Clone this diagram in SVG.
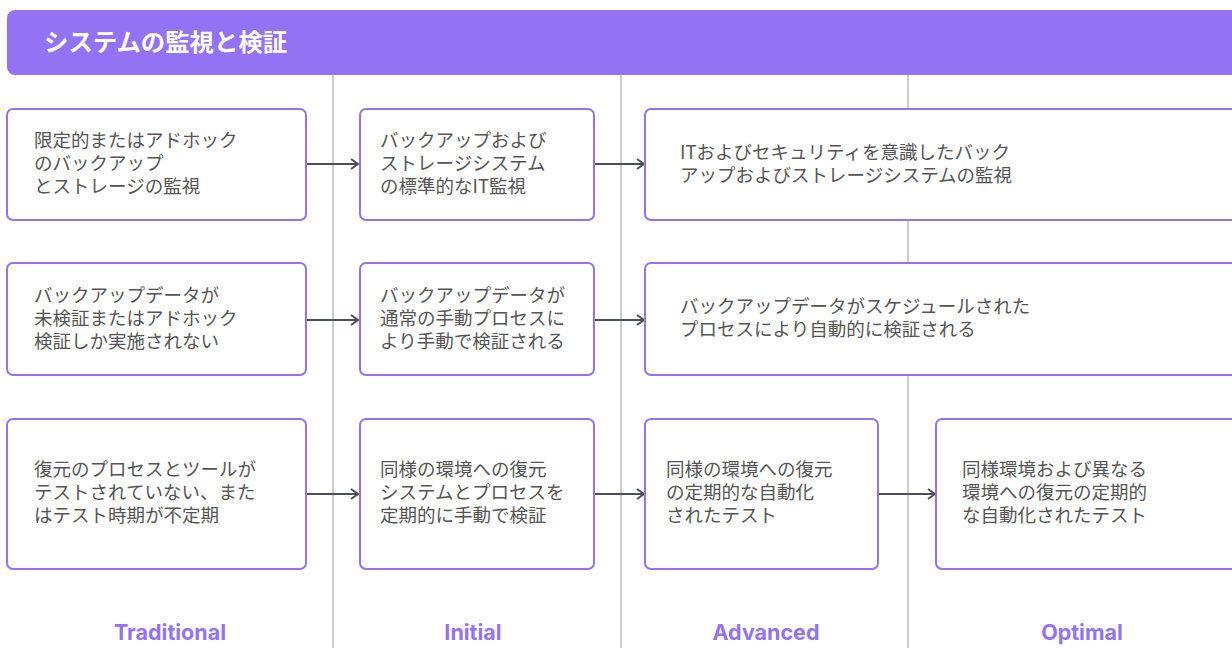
<svg xmlns="http://www.w3.org/2000/svg" width="1232" height="648" viewBox="0 0 1232 648">
<style>
.box{fill:#ffffff;stroke:#9373f4;stroke-width:2}
.t{font-family:"Noto Sans CJK JP","Noto Sans",sans-serif;font-size:18.5px;fill:#555555}
.lane{stroke:#cccccc;stroke-width:2}
.conn{stroke:#4a5058;stroke-width:2;fill:none}
.stage{font-family:Inter,"Liberation Sans",sans-serif;font-weight:700;font-size:21.5px;fill:#9373f4;text-anchor:middle}
.title{font-family:"Noto Sans CJK JP",sans-serif;font-weight:700;font-size:24.4px;fill:#ffffff}
</style>
<defs>
<marker id="arr" markerWidth="12" markerHeight="12" refX="10" refY="6" orient="auto" markerUnits="userSpaceOnUse">
<path d="M3,1 L10,6 L3,11" fill="none" stroke="#4a5058" stroke-width="2"/>
</marker>
</defs>
<rect width="1232" height="648" fill="#ffffff"/>
<g id="lanes">
<line class="lane" x1="333" y1="75" x2="333" y2="648"/>
<line class="lane" x1="621" y1="75" x2="621" y2="648"/>
<line class="lane" x1="908" y1="75" x2="908" y2="648"/>
</g>
<g id="header">
<rect x="7" y="10" width="1240" height="65" rx="8" fill="#9373f4"/>
<text class="title" x="44" y="51">システムの監視と検証</text>
</g>
<g id="connectors">
<line class="conn" x1="307" y1="164" x2="358" y2="164" marker-end="url(#arr)"/>
<line class="conn" x1="595" y1="164" x2="644" y2="164" marker-end="url(#arr)"/>
<line class="conn" x1="307" y1="320" x2="358" y2="320" marker-end="url(#arr)"/>
<line class="conn" x1="595" y1="320" x2="644" y2="320" marker-end="url(#arr)"/>
<line class="conn" x1="307" y1="494" x2="358" y2="494" marker-end="url(#arr)"/>
<line class="conn" x1="595" y1="494" x2="644" y2="494" marker-end="url(#arr)"/>
<line class="conn" x1="879" y1="494" x2="935" y2="494" marker-end="url(#arr)"/>
</g>
<g id="n1">
<rect class="box" x="7" y="109" width="299" height="111" rx="6"/>
<text class="t"><tspan x="34" y="147">限定的またはアドホック</tspan><tspan x="34" y="170">のバックアップ</tspan><tspan x="34" y="193">とストレージの監視</tspan></text>
</g>
<g id="n2">
<rect class="box" x="360" y="109" width="234" height="111" rx="6"/>
<text class="t"><tspan x="380" y="147">バックアップおよび</tspan><tspan x="380" y="170">ストレージシステム</tspan><tspan x="380" y="193">の標準的なIT監視</tspan></text>
</g>
<g id="n3">
<rect class="box" x="645" y="109" width="600" height="111" rx="6"/>
<text class="t"><tspan x="680" y="159">ITおよびセキュリティを意識したバック</tspan><tspan x="680" y="182">アップおよびストレージシステムの監視</tspan></text>
</g>
<g id="n4">
<rect class="box" x="7" y="263" width="299" height="112" rx="6"/>
<text class="t"><tspan x="34" y="302">バックアップデータが</tspan><tspan x="34" y="325">未検証またはアドホック</tspan><tspan x="34" y="348">検証しか実施されない</tspan></text>
</g>
<g id="n5">
<rect class="box" x="360" y="263" width="234" height="112" rx="6"/>
<text class="t"><tspan x="380" y="302">バックアップデータが</tspan><tspan x="380" y="325">通常の手動プロセスに</tspan><tspan x="380" y="348">より手動で検証される</tspan></text>
</g>
<g id="n6">
<rect class="box" x="645" y="263" width="600" height="112" rx="6"/>
<text class="t"><tspan x="680" y="313">バックアップデータがスケジュールされた</tspan><tspan x="680" y="336">プロセスにより自動的に検証される</tspan></text>
</g>
<g id="n7">
<rect class="box" x="7" y="419" width="299" height="150" rx="6"/>
<text class="t"><tspan x="34" y="476">復元のプロセスとツールが</tspan><tspan x="34" y="499">テストされていない、また</tspan><tspan x="34" y="522">はテスト時期が不定期</tspan></text>
</g>
<g id="n8">
<rect class="box" x="360" y="419" width="234" height="150" rx="6"/>
<text class="t"><tspan x="380" y="476">同様の環境への復元</tspan><tspan x="380" y="499">システムとプロセスを</tspan><tspan x="380" y="522">定期的に手動で検証</tspan></text>
</g>
<g id="n9">
<rect class="box" x="645" y="419" width="233" height="150" rx="6"/>
<text class="t"><tspan x="666" y="476">同様の環境への復元</tspan><tspan x="666" y="499">の定期的な自動化</tspan><tspan x="666" y="522">されたテスト</tspan></text>
</g>
<g id="n10">
<rect class="box" x="936" y="419" width="310" height="150" rx="6"/>
<text class="t"><tspan x="962" y="476">同様環境および異なる</tspan><tspan x="962" y="499">環境への復元の定期的</tspan><tspan x="962" y="522">な自動化されたテスト</tspan></text>
</g>
<g id="stages">
<text class="stage" x="170" y="640">Traditional</text>
<text class="stage" x="473" y="640">Initial</text>
<text class="stage" x="766" y="640">Advanced</text>
<text class="stage" x="1082" y="640">Optimal</text>
</g>
</svg>
